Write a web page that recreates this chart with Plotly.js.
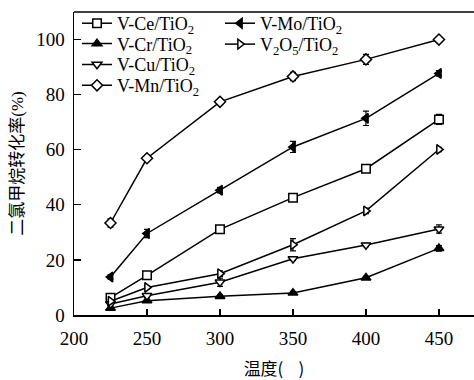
<!DOCTYPE html>
<html>
<head>
<meta charset="utf-8">
<script src="https://cdn.plot.ly/plotly-3.0.1.min.js"></script>
<style>html,body{margin:0;padding:0;background:#fff;}#chart{width:474px;height:380px;}</style>
</head>
<body>
<div id="chart"></div>
<script>
const temps = [225, 250, 300, 350, 400, 450];
const vCe   = [6.3, 14.4, 31.1, 42.6, 53.1, 71.0];
const vCr   = [2.5, 5.2, 6.8, 8.0, 13.5, 24.2];
const vCu   = [4.0, 7.0, 11.9, 20.4, 25.4, 31.2];
const vMn   = [33.4, 56.9, 77.4, 86.6, 92.8, 100.0];
const vMo   = [13.8, 29.6, 45.3, 61.0, 71.4, 87.7];
const v2o5  = [5.0, 10.0, 15.0, 25.5, 37.8, 60.1];
const eCe   = [0.6, 0.6, 0.6, 0.6, 0.6, 1.8];
const eCr   = [0.5, 0.5, 0.5, 0.5, 0.5, 1.0];
const eCu   = [0.5, 0.5, 1.5, 0.6, 0.6, 1.5];
const eMn   = [1.5, 1.0, 1.0, 1.5, 1.8, 0.5];
const eMo   = [0.8, 1.5, 1.0, 2.0, 2.6, 1.0];
const e2o5  = [0.5, 0.5, 1.0, 2.2, 1.0, 0.8];
const names = ['V-Ce/TiO<sub>2</sub>','V-Cr/TiO<sub>2</sub>','V-Cu/TiO<sub>2</sub>','V-Mn/TiO<sub>2</sub>','V-Mo/TiO<sub>2</sub>','V<sub>2</sub>O<sub>5</sub>/TiO<sub>2</sub>'];
const xTickVals = [200, 250, 300, 350, 400, 450];
const yTickVals = [0, 20, 40, 60, 80, 100];

function tr(y, err, name, symbol, fill, legend) {
  return {
    x: temps, y: y, name: name, type: 'scatter', mode: 'lines+markers',
    legend: legend,
    line: {color: '#000', width: 1.5},
    marker: {symbol: symbol, size: 8.5, color: fill, line: {color: '#000', width: 1.5}},
    error_y: {type: 'data', array: err, visible: true, color: '#000', thickness: 1.2, width: 3}
  };
}
const data = [
  tr(vCe, eCe, names[0], 'square', '#fff', 'legend'),
  tr(vCr, eCr, names[1], 'triangle-up', '#000', 'legend2'),
  tr(vCu, eCu, names[2], 'triangle-down', '#fff', 'legend3'),
  tr(vMn, eMn, names[3], 'diamond', '#fff', 'legend4'),
  tr(vMo, eMo, names[4], 'triangle-left', '#000', 'legend5'),
  tr(v2o5, e2o5, names[5], 'triangle-right', '#fff', 'legend6')
];
const serif = 'Liberation Serif, Times New Roman, serif';
const cjk = 'Noto Sans CJK SC, sans-serif';
function leg(x, y) {
  return {
    font: {family: serif, size: 18, color: '#000'},
    bgcolor: 'rgba(0,0,0,0)', borderwidth: 0,
    xanchor: 'left', yanchor: 'middle', x: x, y: y
  };
}
const layout = {
  width: 474, height: 380,
  margin: {l: 74, r: 0, t: 12, b: 65},
  paper_bgcolor: '#fff', plot_bgcolor: '#fff',
  showlegend: true,
  legend:  leg(0.0075, 0.962),
  legend2: leg(0.0075, 0.895),
  legend3: leg(0.0075, 0.826),
  legend4: leg(0.0075, 0.757),
  legend5: leg(0.365, 0.962),
  legend6: leg(0.365, 0.893),
  xaxis: {
    range: [200, 474], tickvals: xTickVals,
    ticks: 'inside', ticklen: 6, tickwidth: 1.2, tickcolor: '#000',
    showline: true, linecolor: '#000', linewidth: 1.5, mirror: false,
    showgrid: false, zeroline: false, automargin: false,
    ticklabelstandoff: 6,
    tickfont: {family: serif, size: 19, color: '#000'},
    title: {text: '温度(    )', font: {family: cjk, size: 17, color: '#000'}, standoff: 15}
  },
  yaxis: {
    range: [0, 110], tickvals: yTickVals,
    ticks: 'inside', ticklen: 7, tickwidth: 1.2, tickcolor: '#000',
    showline: true, linecolor: '#000', linewidth: 1.5,
    showgrid: false, zeroline: false, automargin: false,
    ticklabelstandoff: 4,
    tickfont: {family: serif, size: 19, color: '#000'},
    title: {text: '二氯甲烷转化率<span style="font-family:Liberation Serif">(%)</span>', font: {family: cjk, size: 17, color: '#000'}, standoff: 8}
  },
  shapes: [{type: 'line', xref: 'paper', yref: 'paper', x0: 0, x1: 1, y0: 1, y1: 1, line: {color: '#000', width: 1.5}}]
};
Plotly.newPlot('chart', data, layout, {displayModeBar: false, staticPlot: true});
</script>
</body>
</html>
